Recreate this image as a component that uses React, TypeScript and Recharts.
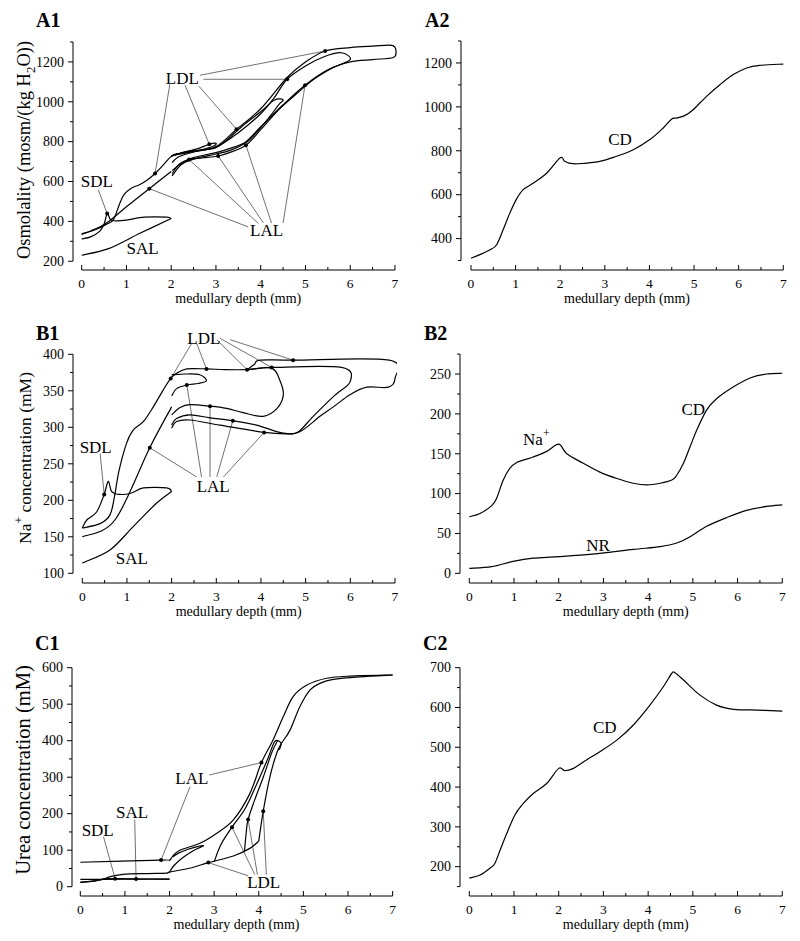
import { ComposedChart, Line, Scatter, XAxis, YAxis } from "recharts";

type Pt = [number, number];
type Leader = [number, number, number, number];
interface Tag { text: string; x: number; y: number; sup?: string }

const SERIF = '"Liberation Serif", "Times New Roman", serif';

// medullary depth axis, minor ticks every 0.5 mm
const depthTicks = [0, 0.5, 1, 1.5, 2, 2.5, 3, 3.5, 4, 4.5, 5, 5.5, 6, 6.5, 7];

// ---------- A1: osmolality in loops of Henle ----------
const a1YTicks = [200, 300, 400, 500, 600, 700, 800, 900, 1000, 1100, 1200, 1300];
const a1Sal: Pt[] = [[0, 230], [0.6, 263], [1.3, 340], [2.0, 414]];
const a1Sdl: Pt[] = [[0, 312], [0.2, 322], [0.4, 350], [0.5, 385], [0.57, 439], [0.64, 410], [0.72, 403], [1.0, 406], [1.4, 421], [1.9, 421], [2.0, 414]];
const a1LdlOuter: Pt[] = [[0, 337], [0.3, 358], [0.55, 385], [0.71, 409], [0.85, 490], [0.95, 535], [1.1, 565], [1.3, 585], [1.45, 605], [1.64, 640], [1.83, 685], [2.0, 725], [2.2, 742], [2.5, 756]];
const a1LalOuter: Pt[] = [[2.0, 650], [1.51, 564], [1.0, 473], [0.62, 402], [0.4, 372], [0.2, 352], [0, 335]];
const a1Loop3: Pt[] = [[2.0, 728], [2.3, 748], [2.6, 765], [2.85, 787], [3.0, 792], [2.95, 778], [2.7, 760], [2.4, 742], [2.15, 722], [2.02, 695]];
const a1Loop45: Pt[] = [[2.1, 738], [2.6, 757], [3.0, 770], [3.3, 820], [3.6, 880], [4.0, 950], [4.3, 1008], [4.5, 1010], [4.4, 985], [4.2, 925], [4.0, 870], [3.7, 800], [3.3, 755], [3.0, 738], [2.5, 712], [2.2, 685], [2.02, 655]];
const a1Loop6: Pt[] = [[2.05, 735], [2.5, 752], [3.0, 772], [3.5, 845], [4.0, 940], [4.3, 1020], [4.59, 1113], [5.0, 1180], [5.4, 1225], [5.8, 1246], [6.0, 1212], [5.6, 1170], [5.2, 1115], [4.8, 1040], [4.4, 960], [4.0, 860], [3.67, 782], [3.3, 745], [3.05, 728], [2.7, 718], [2.4, 710], [2.2, 680], [2.02, 628]];
const a1Loop7: Pt[] = [[2.0, 730], [2.5, 750], [3.0, 775], [3.46, 862], [4.0, 965], [4.59, 1122], [5.0, 1200], [5.44, 1255], [6.0, 1272], [6.5, 1279], [6.93, 1283], [7.02, 1258], [6.96, 1222], [6.5, 1212], [6.0, 1200], [5.5, 1160], [4.99, 1083], [4.5, 985], [4.0, 875], [3.67, 800], [3.3, 765], [3.0, 745], [2.5, 720], [2.2, 690], [2.02, 640]];
const a1Dots: Pt[] = [[0.57, 439], [1.64, 640], [2.85, 787], [3.46, 862], [4.59, 1113], [5.44, 1255], [1.51, 564], [2.4, 710], [3.05, 728], [3.67, 782], [4.99, 1083]];
const a1Leaders: Leader[] = [
  [2.64, 1133, 5.44, 1255], [2.72, 1113, 4.59, 1113], [1.97, 1088, 1.64, 640], [2.31, 1083, 2.85, 787], [2.62, 1078, 3.46, 862],
  [3.72, 372, 1.51, 564], [3.95, 389, 2.4, 710], [4.06, 392, 3.05, 728], [4.24, 392, 3.67, 782], [4.5, 392, 4.99, 1083],
  [0.37, 559, 0.57, 439],
];
const a1Tags: Tag[] = [
  { text: "LDL", x: 2.25, y: 1121 }, { text: "LAL", x: 4.13, y: 355 },
  { text: "SDL", x: 0.34, y: 600 }, { text: "SAL", x: 1.36, y: 264 },
];

// ---------- A2: collecting duct osmolality ----------
const a2YTicks = [300, 400, 500, 600, 700, 800, 900, 1000, 1100, 1200, 1300];
const a2Cd: Pt[] = [[0, 311], [0.2, 327], [0.43, 349], [0.575, 372], [0.72, 440], [0.87, 516], [1.02, 580], [1.17, 623], [1.4, 653], [1.7, 699], [2.0, 768], [2.1, 752], [2.22, 743], [2.4, 741], [2.89, 752], [3.26, 775], [3.64, 805], [4.01, 851], [4.31, 904], [4.5, 945], [4.61, 949], [4.79, 960], [4.98, 987], [5.28, 1048], [5.58, 1101], [5.88, 1147], [6.18, 1177], [6.47, 1189], [7.0, 1195]];
const a2Tags: Tag[] = [{ text: "CD", x: 3.34, y: 854 }];

// ---------- B1: Na+ in loops of Henle ----------
const b1YTicks = [100, 125, 150, 175, 200, 225, 250, 275, 300, 325, 350, 375, 400];
const b1Sdl: Pt[] = [[0, 162], [0.1, 173], [0.32, 184], [0.49, 208], [0.58, 226], [0.66, 212], [0.84, 208], [1.1, 210], [1.37, 217], [1.89, 217], [2.0, 212]];
const b1Sal: Pt[] = [[2.0, 212], [1.66, 196], [1.14, 164], [0.62, 132], [0, 114]];
const b1LdlOuter: Pt[] = [[0, 162], [0.4, 168], [0.62, 180], [0.72, 205], [0.82, 240], [0.99, 278], [1.14, 296], [1.37, 308], [1.59, 328], [1.81, 351], [1.98, 367], [2.11, 374]];
const b1LalOuter: Pt[] = [[2.0, 328], [1.51, 272], [0.73, 173], [0, 150]];
const b1Loop28: Pt[] = [[2.0, 372], [2.3, 373], [2.63, 372], [2.78, 364], [2.6, 360], [2.34, 358], [2.11, 353], [2.0, 343]];
const b1Loop45: Pt[] = [[2.11, 374], [2.34, 380], [2.78, 380], [3.2, 379], [3.69, 379], [4.24, 381], [4.43, 363], [4.5, 344], [4.36, 326], [4.05, 315], [3.6, 320], [3.23, 326], [2.86, 329], [2.41, 331], [2.19, 327], [2.0, 317]];
const b1Loop6: Pt[] = [[3.69, 379], [4.0, 381], [4.24, 382], [5.8, 382], [6.0, 363], [5.62, 342], [5.17, 315], [4.84, 294], [4.6, 291], [4.07, 293], [3.08, 303], [2.41, 310], [2.11, 308], [2.0, 299]];
const b1Loop7: Pt[] = [[3.69, 379], [3.85, 386], [3.98, 392], [4.72, 392], [6.87, 392], [7.0, 367], [6.85, 355], [6.37, 355], [6.0, 345], [5.62, 328], [5.32, 315], [4.87, 294], [4.5, 292], [3.9, 303], [3.37, 309], [2.86, 313], [2.41, 317], [2.11, 312], [2.0, 303]];
const b1Dots: Pt[] = [[0.49, 208], [1.98, 367], [2.78, 380], [3.69, 379], [4.24, 382], [4.72, 392], [1.51, 272], [2.34, 358], [2.86, 329], [3.37, 309], [4.07, 293]];
const b1Leaders: Leader[] = [
  [2.45, 415, 1.98, 367], [2.56, 415, 2.78, 380], [3.01, 420, 3.69, 379], [3.08, 422, 4.24, 382], [3.31, 420, 4.72, 392],
  [2.56, 232, 1.51, 272], [2.67, 232, 2.34, 358], [2.86, 232, 2.86, 329], [3.01, 232, 3.37, 309], [3.16, 232, 4.07, 293],
  [0.4, 264, 0.49, 208],
];
const b1Tags: Tag[] = [
  { text: "LDL", x: 2.72, y: 422 }, { text: "LAL", x: 2.93, y: 219 },
  { text: "SDL", x: 0.3, y: 273 }, { text: "SAL", x: 1.11, y: 121 },
];

// ---------- B2: collecting duct Na+ and NR ----------
const b2YTicks = [0, 25, 50, 75, 100, 125, 150, 175, 200, 225, 250, 275];
const b2Na: Pt[] = [[0, 71], [0.24, 75], [0.5, 85], [0.61, 94], [0.76, 117], [0.91, 132], [1.06, 139], [1.21, 142], [1.43, 146], [1.73, 153], [2.0, 162], [2.18, 150], [2.55, 138], [2.92, 127], [3.3, 119], [3.67, 113], [3.97, 111], [4.27, 113], [4.53, 117], [4.64, 123], [4.79, 138], [4.94, 159], [5.09, 180], [5.31, 205], [5.53, 219], [5.91, 234], [6.28, 245], [6.65, 250], [7.0, 251]];
const b2Nr: Pt[] = [[0, 6.3], [0.5, 8.4], [0.98, 15], [1.43, 19], [2.03, 21], [2.92, 25], [3.67, 30], [4.27, 33.5], [4.64, 38], [4.94, 46], [5.31, 59], [5.76, 70], [6.2, 79], [6.65, 84], [7.0, 86]];
const b2Tags: Tag[] = [
  { text: "Na", x: 1.5, y: 169, sup: "+" }, { text: "CD", x: 5.01, y: 206 }, { text: "NR", x: 2.88, y: 35 },
];

// ---------- C1: urea in loops of Henle ----------
const c1YTicks = [0, 50, 100, 150, 200, 250, 300, 350, 400, 450, 500, 550, 600];
const c1Sdl: Pt[] = [[0, 12], [0.3, 15], [0.5, 21], [0.78, 22], [1.5, 21], [2.0, 21]];
const c1Sal: Pt[] = [[2.0, 21], [1.25, 21], [0.5, 20], [0, 20]];
const c1LdlOuter: Pt[] = [[0, 12], [0.44, 18], [0.66, 27], [0.96, 34], [1.5, 36], [1.93, 37], [2.0, 40], [2.5, 52], [2.87, 66], [3.43, 84], [3.8, 105], [4.0, 125]];
const c1LalUpper: Pt[] = [[7.0, 580], [6.04, 577], [5.52, 571], [5.07, 552], [4.77, 521], [4.55, 466], [4.32, 402], [4.06, 340], [3.8, 255], [3.43, 183], [3.05, 146], [2.68, 119], [2.23, 100], [2.08, 85], [2.0, 73], [1.81, 73], [0, 67]];
const c1LdlDeep: Pt[] = [[4.0, 125], [4.1, 207], [4.25, 301], [4.4, 365], [4.51, 393], [4.7, 429], [4.92, 493], [5.15, 539], [5.37, 557], [5.67, 568], [6.27, 575], [7.0, 580]];
const c1LdlA: Pt[] = [[3.0, 68], [3.15, 115], [3.4, 163], [3.7, 215], [3.95, 280], [4.2, 350], [4.36, 398], [4.5, 393], [4.46, 375]];
const c1LdlB: Pt[] = [[3.68, 98], [3.72, 150], [3.76, 184], [3.9, 235], [4.1, 300], [4.3, 370], [4.42, 400]];
const c1Loop28: Pt[] = [[2.0, 40], [2.1, 58], [2.3, 80], [2.55, 100], [2.76, 112], [2.62, 110], [2.4, 102], [2.2, 92], [2.08, 82]];
const c1Dots: Pt[] = [[0.78, 22], [1.25, 21], [1.81, 73], [4.06, 340], [2.87, 66], [3.4, 163], [3.76, 184], [4.1, 207]];
const c1Leaders: Leader[] = [
  [2.89, 306, 4.06, 340], [2.46, 274, 1.81, 73],
  [1.22, 184, 1.25, 21], [0.52, 137, 0.78, 22],
  [3.76, 30, 2.87, 66], [3.91, 33, 3.4, 163], [3.97, 33, 3.76, 184], [4.17, 33, 4.1, 207],
];
const c1Tags: Tag[] = [
  { text: "LAL", x: 2.5, y: 297 }, { text: "SAL", x: 1.16, y: 205 },
  { text: "SDL", x: 0.39, y: 156 }, { text: "LDL", x: 4.11, y: 12 },
];

// ---------- C2: collecting duct urea ----------
const c2YTicks = [150, 200, 250, 300, 350, 400, 450, 500, 550, 600, 650, 700];
const c2Cd: Pt[] = [[0, 171], [0.24, 179], [0.46, 196], [0.57, 208], [0.69, 242], [0.84, 284], [1.02, 330], [1.21, 359], [1.43, 384], [1.73, 409], [2.0, 447], [2.14, 441], [2.33, 447], [2.62, 468], [2.92, 489], [3.3, 518], [3.67, 556], [4.04, 606], [4.34, 652], [4.53, 686], [4.6, 687], [4.79, 669], [5.16, 631], [5.53, 606], [5.91, 595], [6.28, 594], [7.0, 591]];
const c2Tags: Tag[] = [{ text: "CD", x: 3.03, y: 550 }];

const pts = (a: Pt[]) => a.map(([x, y]) => ({ x, y }));

// catmull-rom through the points, so traced curves stay smooth
const smooth = (ctx: any) => {
  let p: number[][] = [];
  return {
    areaStart() {},
    areaEnd() {},
    lineStart() { p = []; },
    point(x: number, y: number) { p.push([+x, +y]); },
    lineEnd() {
      if (!p.length) return;
      ctx.moveTo(p[0][0], p[0][1]);
      for (let i = 0; i < p.length - 1; i++) {
        const a = p[Math.max(i - 1, 0)], b = p[i], c = p[i + 1], d = p[Math.min(i + 2, p.length - 1)];
        ctx.bezierCurveTo(
          b[0] + (c[0] - a[0]) / 6, b[1] + (c[1] - a[1]) / 6,
          c[0] - (d[0] - b[0]) / 6, c[1] - (d[1] - b[1]) / 6,
          c[0], c[1]
        );
      }
    },
  };
};

const XTick = ({ x, y, payload }: any) => {
  const major = Number.isInteger(payload.value);
  return (
    <g>
      <line x1={x} y1={y} x2={x} y2={y - (major ? 5 : 3)} stroke="#000" />
      {major && (
        <text x={x} y={y + 17.5} textAnchor="middle" fontSize={13.5} fontFamily={SERIF} fill="#000">{payload.value}</text>
      )}
    </g>
  );
};

const YTick = ({ x, y, payload, major }: any) => {
  const isMajor = payload.value % major === 0;
  return (
    <g>
      <line x1={x - (isMajor ? 5 : 3)} y1={y} x2={x} y2={y} stroke="#000" />
      {isMajor && (
        <text x={x - 9} y={y} dy="0.34em" textAnchor="end" fontSize={14} fontFamily={SERIF} fill="#000">{payload.value}</text>
      )}
    </g>
  );
};

const DotShape = (p: any) => <circle cx={p.cx} cy={p.cy} r={2} fill="#000" />;

const TagShape = (p: any) => (
  <text x={p.cx} y={p.cy} dy="0.35em" textAnchor="middle" fontSize={17} fontFamily={SERIF} fill="#000">
    {p.payload.text}
    {p.payload.sup && <tspan dy={-8} fontSize={12}>{p.payload.sup}</tspan>}
  </text>
);

interface PanelProps {
  left: number; top: number; width: number; height: number;
  xDomain: [number, number]; yDomain: [number, number];
  yAxisRange: [number, number]; yTicks: number[]; yMajor: number;
  curves: Pt[][]; leaders?: Leader[]; dots?: Pt[]; tags?: Tag[];
}

function Panel({ left, top, width, height, xDomain, yDomain, yAxisRange, yTicks, yMajor, curves, leaders = [], dots = [], tags = [] }: PanelProps) {
  const [x0, x1] = xDomain;
  const [y0, y1] = yDomain;
  const kx = width / (x1 - x0);
  const ky = height / (y1 - y0);
  // axis lines only span the labelled range (offset axes)
  const xDash = `0 ${(-x0 * kx).toFixed(1)} ${(7 * kx).toFixed(1)} 3000`;
  const yDash = `0 ${((y1 - yAxisRange[1]) * ky).toFixed(1)} ${((yAxisRange[1] - yAxisRange[0]) * ky).toFixed(1)} 3000`;
  return (
    <div style={{ position: "absolute", left: left - 60, top: top - 10 }}>
      <ComposedChart width={width + 70} height={height + 40} margin={{ top: 10, right: 10, bottom: 0, left: 0 }}>
        <XAxis
          type="number" dataKey="x" domain={xDomain} allowDataOverflow ticks={depthTicks} interval={0}
          height={30} tickSize={0} tickMargin={0} tickLine={false}
          tick={(t: any) => <XTick {...t} />}
          axisLine={{ stroke: "#000", strokeDasharray: xDash }}
        />
        <YAxis
          type="number" dataKey="y" domain={yDomain} allowDataOverflow ticks={yTicks} interval={0}
          width={60} tickSize={0} tickMargin={0} tickLine={false}
          tick={(t: any) => <YTick {...t} major={yMajor} />}
          axisLine={{ stroke: "#000", strokeDasharray: yDash }}
        />
        {leaders.map((l, i) => (
          <Line key={"l" + i} data={[{ x: l[0], y: l[1] }, { x: l[2], y: l[3] }]} dataKey="y" type="linear"
            stroke="#333" strokeWidth={0.7} dot={false} activeDot={false} isAnimationActive={false} />
        ))}
        {curves.map((c, i) => (
          <Line key={"c" + i} data={pts(c)} dataKey="y" type={smooth as any}
            stroke="#000" strokeWidth={1.2} dot={false} activeDot={false} isAnimationActive={false} />
        ))}
        {dots.length > 0 && <Scatter data={pts(dots)} shape={DotShape} isAnimationActive={false} />}
        {tags.length > 0 && <Scatter data={tags} shape={TagShape} isAnimationActive={false} />}
      </ComposedChart>
    </div>
  );
}

const XTitle = ({ cx, y }: { cx: number; y: number }) => (
  <text x={cx} y={y} textAnchor="middle" fontSize={14}>medullary depth (mm)</text>
);

export default function App() {
  return (
    <div style={{ position: "absolute", left: 0, top: 0, width: 800, height: 941, background: "#fff" }}>
      <Panel left={73} top={42} width={324} height={228} xDomain={[-0.194, 7.045]} yDomain={[156, 1300]}
        yAxisRange={[200, 1300]} yTicks={a1YTicks} yMajor={200}
        curves={[a1Sal, a1Sdl, a1LdlOuter, a1LalOuter, a1Loop3, a1Loop45, a1Loop6, a1Loop7]}
        leaders={a1Leaders} dots={a1Dots} tags={a1Tags} />
      <Panel left={461} top={41} width={324} height={229} xDomain={[-0.224, 7.039]} yDomain={[257, 1300]}
        yAxisRange={[300, 1300]} yTicks={a2YTicks} yMajor={200}
        curves={[a2Cd]} tags={a2Tags} />
      <Panel left={73} top={330} width={324} height={253} xDomain={[-0.208, 7.045]} yDomain={[86.7, 433.3]}
        yAxisRange={[100, 400]} yTicks={b1YTicks} yMajor={50}
        curves={[b1Sdl, b1Sal, b1LdlOuter, b1LalOuter, b1Loop28, b1Loop45, b1Loop6, b1Loop7]}
        leaders={b1Leaders} dots={b1Dots} tags={b1Tags} />
      <Panel left={460} top={345} width={325} height={238} xDomain={[-0.208, 7.061]} yDomain={[-12.1, 286.4]}
        yAxisRange={[0, 275]} yTicks={b2YTicks} yMajor={50}
        curves={[b2Na, b2Nr]} tags={b2Tags} />
      <Panel left={72} top={660} width={325} height={236} xDomain={[-0.186, 7.098]} yDomain={[-25.5, 621.1]}
        yAxisRange={[0, 600]} yTicks={c1YTicks} yMajor={100}
        curves={[c1Sdl, c1Sal, c1LdlOuter, c1LalUpper, c1LdlDeep, c1LdlA, c1LdlB, c1Loop28]}
        leaders={c1Leaders} dots={c1Dots} tags={c1Tags} />
      <Panel left={460} top={660} width={325} height={236} xDomain={[-0.208, 7.061]} yDomain={[126.3, 719.3]}
        yAxisRange={[150, 700]} yTicks={c2YTicks} yMajor={100}
        curves={[c2Cd]} tags={c2Tags} />

      <svg width={800} height={941} style={{ position: "absolute", left: 0, top: 0, pointerEvents: "none" }}
        fontFamily={SERIF} fill="#000">
        <g fontSize={20} fontWeight="bold">
          <text x={36} y={26.5}>A1</text>
          <text x={425} y={26.5}>A2</text>
          <text x={36} y={339.5}>B1</text>
          <text x={424} y={339.5}>B2</text>
          <text x={35} y={650}>C1</text>
          <text x={423} y={650}>C2</text>
        </g>
        <text transform="translate(24,150) rotate(-90)" textAnchor="middle" dy="0.35em" fontSize={18.5}>
          Osmolality (mosm/(kg H<tspan dy={5} fontSize={13}>2</tspan><tspan dy={-5}>O))</tspan>
        </text>
        <text transform="translate(25,458) rotate(-90)" textAnchor="middle" dy="0.35em" fontSize={17.5}>
          Na<tspan dy={-8} fontSize={12}>+</tspan><tspan dy={8}> concentration (mM)</tspan>
        </text>
        <text transform="translate(23,770) rotate(-90)" textAnchor="middle" dy="0.35em" fontSize={20.5}>
          Urea concentration (mM)
        </text>
        <XTitle cx={238.3} y={302.5} />
        <XTitle cx={627} y={302.5} />
        <XTitle cx={238.7} y={615.5} />
        <XTitle cx={625.8} y={615.5} />
        <XTitle cx={236.5} y={928.5} />
        <XTitle cx={625.8} y={928.5} />
      </svg>
    </div>
  );
}
